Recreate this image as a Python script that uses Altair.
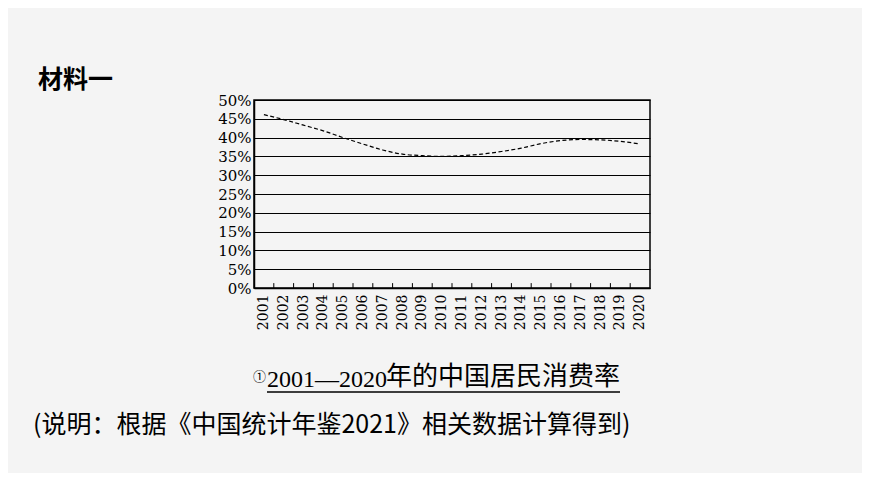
import altair as alt
import pandas as pd

# ---- data ----
years = ["2001", "2002", "2003", "2004", "2005", "2006", "2007", "2008", "2009", "2010",
         "2011", "2012", "2013", "2014", "2015", "2016", "2017", "2018", "2019", "2020"]
rates = [46.1, 44.8, 43.3, 41.8, 40.0, 38.3, 36.7, 35.6, 35.2, 35.0,
         35.2, 35.6, 36.3, 37.2, 38.4, 39.2, 39.5, 39.4, 39.0, 38.3]
tick_years = years[:-1]

title_text = "材料一"
cap_mark = "①"
cap_num = "2001—2020"
cap_cjk = "年的中国居民消费率"
note_text = "(说明：根据《中国统计年鉴2021》相关数据计算得到)"

df = pd.DataFrame({"year": years, "rate": rates})
df_ticks = pd.DataFrame({"year": tick_years, "y0": [0] * len(tick_years), "y1": [1.3] * len(tick_years)})

xscale = alt.Scale(type="band", domain=years, paddingInner=0, paddingOuter=0)
yscale = alt.Scale(domain=[0, 50], nice=False)

line = alt.Chart(df).mark_line(
    color="black", strokeWidth=1.2, strokeDash=[4, 2.5], interpolate="monotone"
).encode(
    x=alt.X("year:O", bandPosition=0.5, scale=xscale, title=None),
    y=alt.Y("rate:Q", scale=yscale, title=None),
)

ticks = alt.Chart(df_ticks).mark_rule(color="black", strokeWidth=1).encode(
    x=alt.X("year:O", bandPosition=1, scale=xscale, title=None),
    y=alt.Y("y0:Q", scale=yscale, title=None),
    y2="y1:Q",
)

def txt(s, x, y, font, size, align="left", baseline="alphabetic", weight="normal"):
    return alt.Chart(alt.Data(values=[{"t": s}])).mark_text(
        align=align, baseline=baseline, font=font, fontSize=size, fontWeight=weight, color="black"
    ).encode(x=alt.value(x), y=alt.value(y), text="t:N")

title = txt(title_text, -216, -20, "Noto Sans CJK SC", 25, baseline="middle", weight="bold")
c1 = txt(cap_mark, -1, 281, "Noto Sans CJK SC", 13)
c2 = txt(cap_num, 13, 287, "Liberation Serif", 24)
c3 = txt(cap_cjk, 132, 285, "Noto Sans CJK SC", 26)
note = txt(note_text, -221, 325, "Noto Sans CJK SC", 25, baseline="middle")

underline = alt.Chart(alt.Data(values=[{"a": 1}])).mark_rule(color="black", strokeWidth=1.5).encode(
    x=alt.value(13), x2=alt.value(366), y=alt.value(292)
)

chart = alt.layer(line, ticks, title, c1, c2, c3, note, underline).properties(
    width=396, height=188,
    autosize=alt.AutoSizeParams(type="none"),
    padding={"left": 246, "top": 92, "right": 212, "bottom": 185},
    background="#f4f4f4",
).configure_view(
    stroke="black", strokeWidth=1.5, fill="#f4f4f4"
).configure_axisX(
    labelAngle=270, labelAlign="right", labelBaseline="middle", labelPadding=6, tickSize=0,
    labelFont="DejaVu Serif", labelFontSize=14, labelColor="black", domainColor="black",
    domainWidth=1.5, grid=False, labelOverlap=False,
).configure_axisY(
    tickCount=10, labelExpr="datum.value + '%'", tickSize=0, labelPadding=3,
    labelFont="DejaVu Serif", labelFontSize=15, labelColor="black", domainColor="black",
    domainWidth=1.5, labelOverlap=False, labelFlush=False,
    grid=True, gridColor="black", gridWidth=1, gridOpacity=1,
)

chart.save("out.html", embed_options={"renderer": "svg", "actions": False})
